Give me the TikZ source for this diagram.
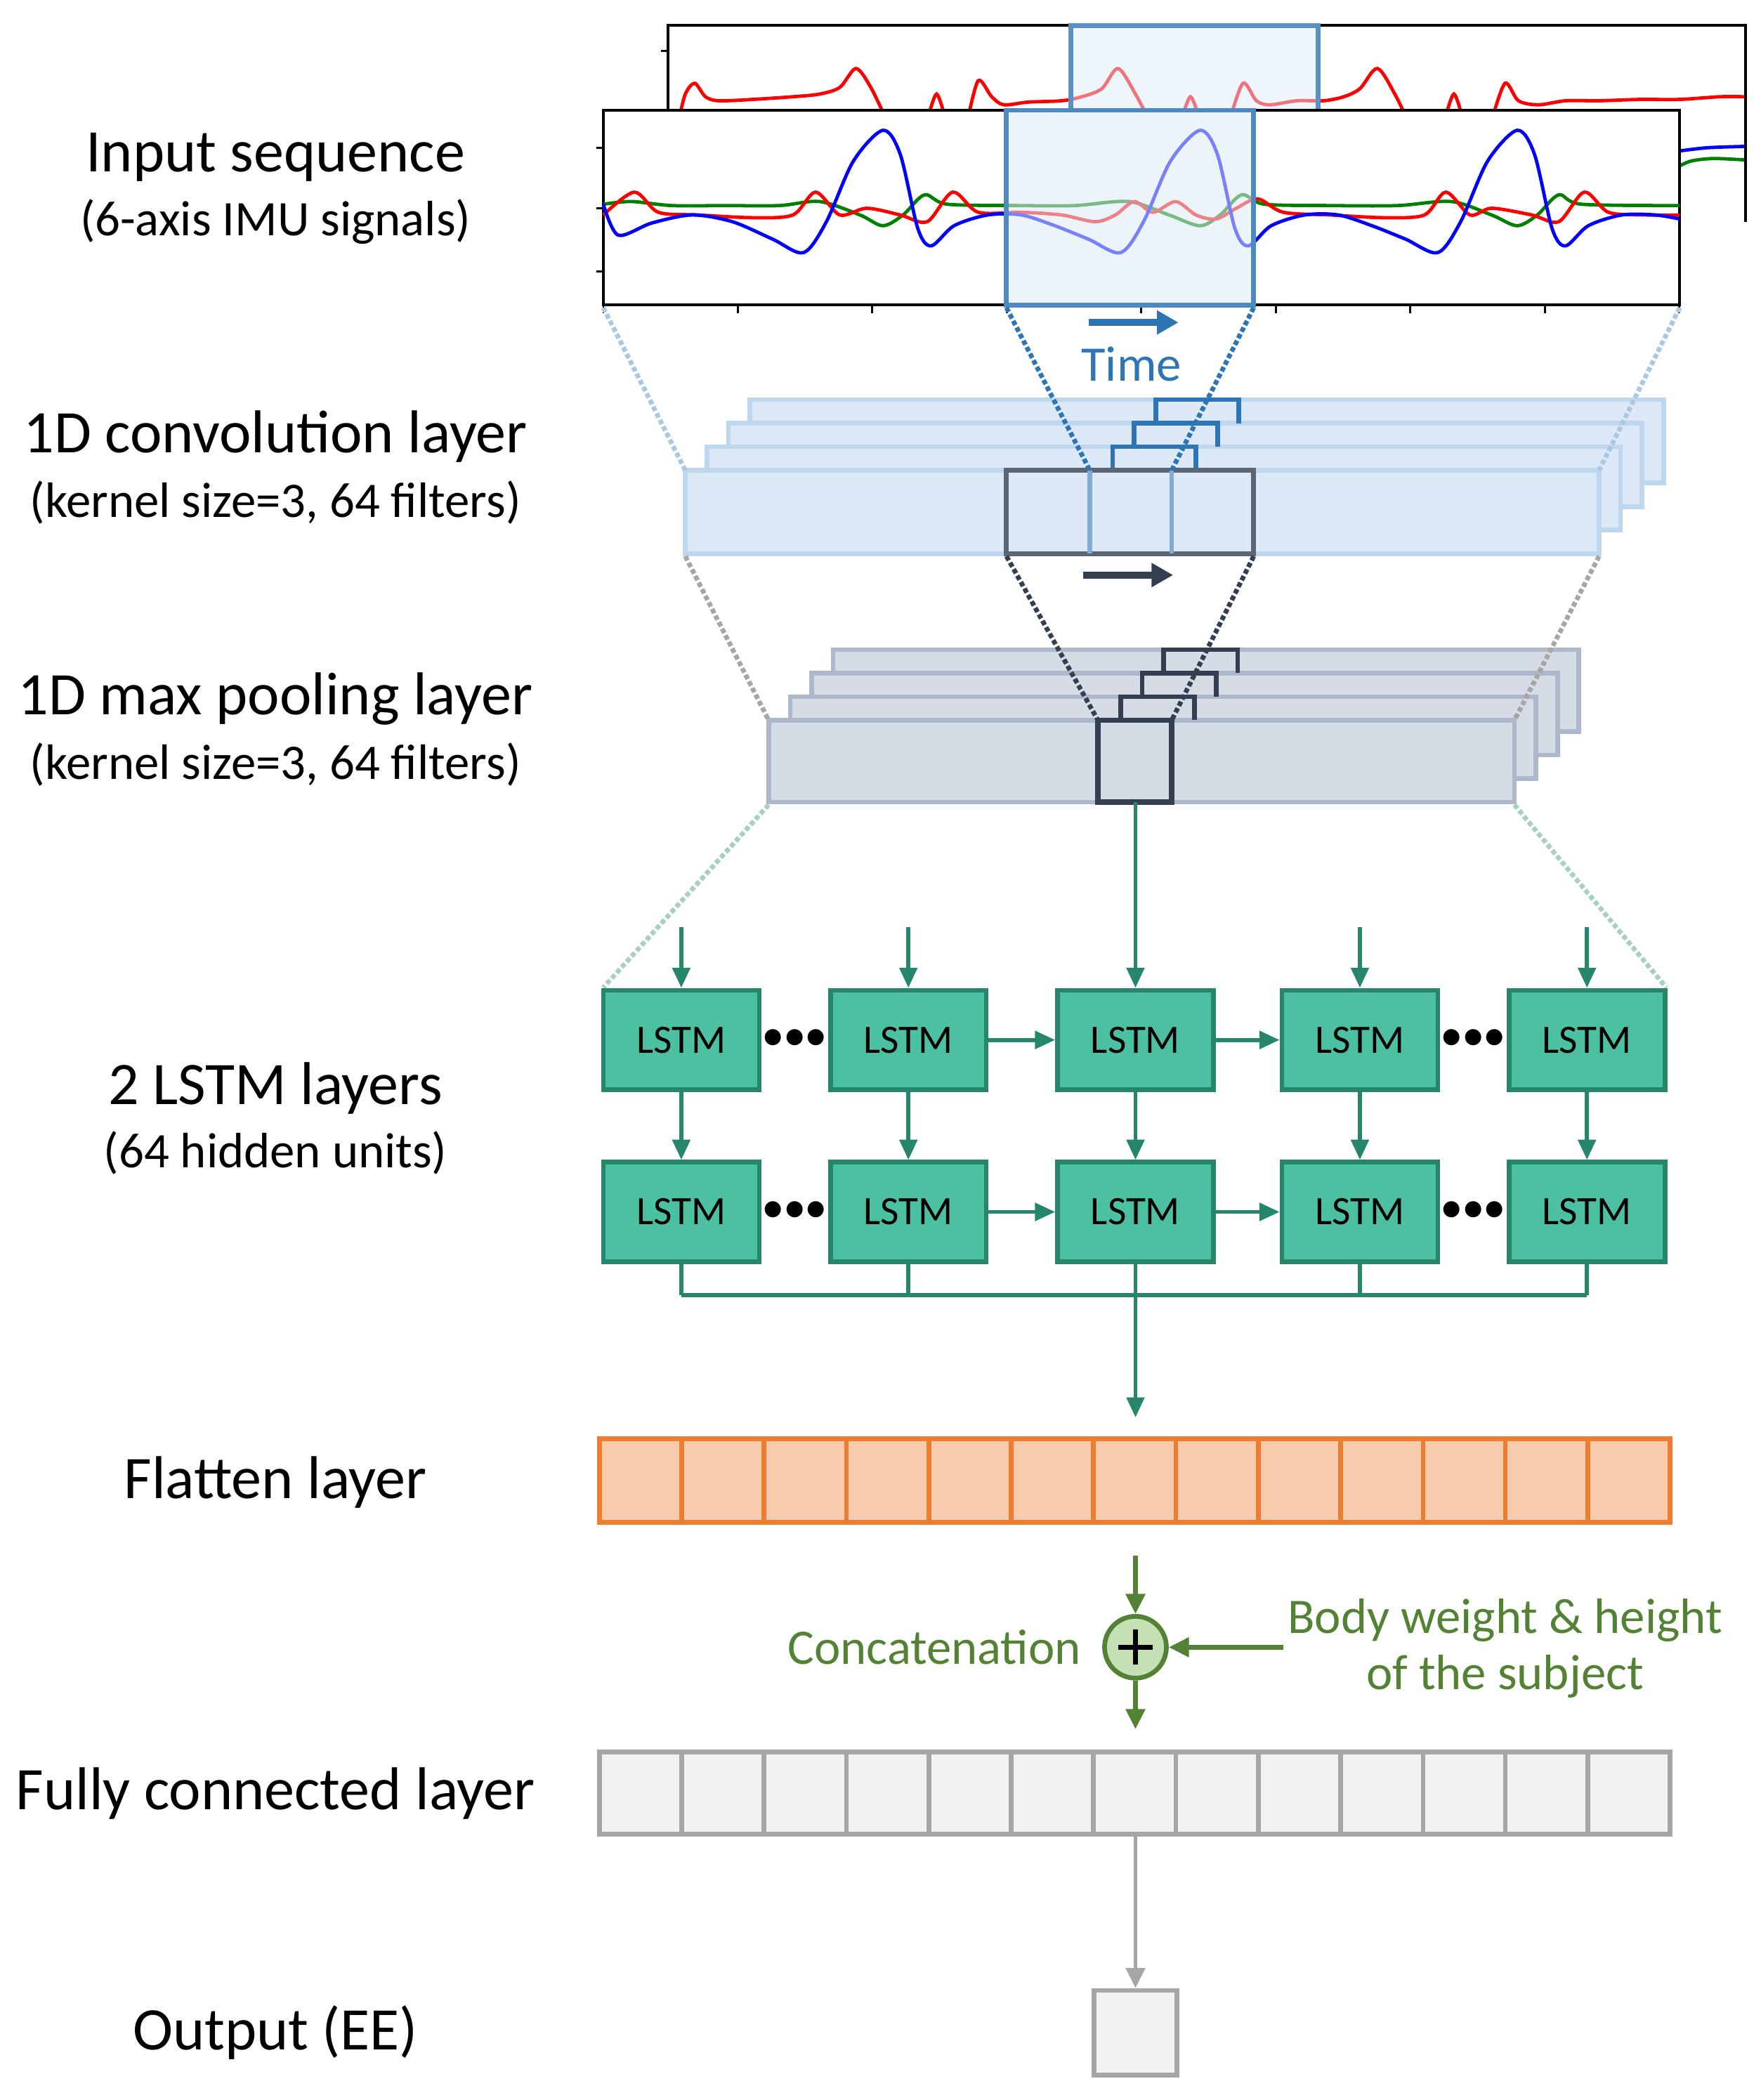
\documentclass[tikz,border=0pt]{standalone}
\usepackage{fontspec}
\setmainfont{Carlito}
\usetikzlibrary{arrows.meta,calc}
\definecolor{sigblue}{RGB}{46,117,182}
\definecolor{hlfill}{RGB}{222,235,247}
\definecolor{convfill}{RGB}{221,233,246}
\definecolor{convline}{RGB}{189,215,238}
\definecolor{poolfill}{RGB}{214,220,229}
\definecolor{poolline}{RGB}{173,185,202}
\definecolor{darkslate}{RGB}{51,63,80}
\definecolor{lstmfill}{RGB}{76,193,161}
\definecolor{lstmline}{RGB}{38,134,108}
\definecolor{flatfill}{RGB}{248,203,173}
\definecolor{flatline}{RGB}{237,125,49}
\definecolor{fcfill}{RGB}{242,242,242}
\definecolor{fcline}{RGB}{166,166,166}
\definecolor{catgreen}{RGB}{84,130,53}
\definecolor{catfill}{RGB}{197,224,180}

\tikzset{
  label/.style={font=\fontsize{45}{50}\selectfont, align=center},
  sublabel/.style={font=\fontsize{37}{42}\selectfont},
  lstm/.style={draw=lstmline, fill=lstmfill, line width=3.5pt, minimum width=116pt,
    minimum height=74pt, inner sep=0pt, font=\fontsize{30}{32}\selectfont},
  flow/.style={draw=lstmline, line width=3pt, -{Triangle[length=15pt,width=13pt]}},
  link/.style={draw=lstmline, line width=3pt},
  gap/.style={dotted, line width=3.5pt},
  sig/.style={line width=2.5pt},
}

\begin{document}
\begin{tikzpicture}[x=1pt, y=-1pt]
\useasboundingbox (0,0) rectangle (1310,1563);

% left labels
\node[label] at (205,117) {Input sequence};
\node[sublabel] at (205,165) {(6-axis IMU signals)};
\node[label] at (205,325) {1D convolution layer};
\node[sublabel] at (205,374) {(kernel size=3, 64 filters)};
\node[label] at (205,520) {1D max pooling layer};
\node[sublabel] at (205,569) {(kernel size=3, 64 filters)};
\node[label] at (205,810) {2 LSTM layers};
\node[sublabel] at (205,858) {(64 hidden units)};
\node[label] at (205,1103) {Flatten layer};
\node[label] at (205,1335) {Fully connected layer};
\node[label] at (205,1513) {Output (EE)};

% back signal plot
\draw[black, line width=2pt] (497,165) -- (497,19) -- (1299,19) -- (1299,165);
\draw[black, line width=1.5pt] (497,38) -- (492,38);
\draw[red, sig] plot[smooth] coordinates {(505,90)(510,70)(517,62)(525,72)(535,75)(560,74)(590,72)(610,70)(625,65)(637,51)(648,65)(660,90)};
\draw[red, sig] plot[smooth] coordinates {(690,90)(697,70)(704,90)};
\draw[red, sig] plot[smooth] coordinates {(720,90)(728,60)(738,72)(747,78)(765,76)(790,75)(805,72)(820,66)(832,51)(845,70)(858,95)};
\draw[red, sig] plot[smooth] coordinates {(879,90)(886,72)(893,90)};
\draw[red, sig] plot[smooth] coordinates {(915,90)(925,62)(935,75)(945,78)(965,75)(985,75)(1000,72)(1012,66)(1025,51)(1038,70)(1050,95)};
\draw[red, sig] plot[smooth] coordinates {(1075,90)(1082,70)(1089,90)};
\draw[red, sig] plot[smooth] coordinates {(1110,90)(1120,62)(1130,75)(1145,78)(1165,75)(1190,75)(1220,74)(1250,74)(1280,72)(1298,72)};
\draw[blue, sig] plot[smooth] coordinates {(1245,113)(1270,110)(1298,109)};
\draw[green!50!black, sig] plot[smooth] coordinates {(1245,126)(1258,120)(1275,118)(1298,119)};
\fill[hlfill, opacity=0.5] (797,19) rectangle (981,82);
\draw[sigblue!80, line width=3.5pt] (797,82) -- (797,19) -- (981,19) -- (981,82);

% front signal plot
\fill[white] (449,82) rectangle (1250,227);
\draw[black, line width=2pt] (449,82) rectangle (1250,227);
\foreach \ty in {110,155,202} \draw[black, line width=1.5pt] (449,\ty) -- (444,\ty);
\foreach \tx in {0,...,8} \draw[black, line width=1.5pt] (449+100.1*\tx,227) -- (449+100.1*\tx,233);
\draw[green!50!black, sig] plot[smooth] coordinates {(449,152)(470,150)(500,153)(540,153)(580,153)(610,150)(640,160)(657,168)(672,160)(688,145)(705,152)(760,153)(800,153)(840,150)(870,160)(893,168)(908,160)(924,145)(941,152)(990,153)(1040,153)(1080,150)(1110,160)(1129,168)(1144,160)(1160,145)(1177,152)(1250,153)};
\draw[red, sig] plot[smooth] coordinates {(449,160)(472,143)(490,158)(520,160)(560,162)(590,160)(607,143)(625,160)(645,155)(670,160)(690,165)(709,143)(728,158)(760,158)(790,160)(815,165)(830,160)(844,150)(858,158)(875,150)(890,160)(905,163)(920,155)(936,148)(955,158)(990,160)(1030,162)(1060,160)(1076,143)(1094,160)(1110,155)(1140,160)(1160,165)(1179,143)(1197,158)(1225,160)(1250,160)};
\draw[blue, sig] plot[smooth] coordinates {(449,152)(460,175)(485,166)(515,160)(545,165)(575,178)(598,188)(615,165)(635,120)(657,97)(670,115)(683,170)(693,183)(710,168)(735,160)(760,160)(785,168)(810,178)(834,188)(851,165)(871,120)(893,97)(906,115)(919,170)(929,183)(946,168)(971,160)(996,160)(1021,168)(1046,178)(1070,188)(1087,165)(1107,120)(1129,97)(1142,115)(1155,170)(1165,183)(1182,168)(1207,160)(1232,160)(1250,163)};
\fill[hlfill, opacity=0.55] (749,82) rectangle (933,227);
\draw[sigblue!85, line width=3.5pt] (749,82) rectangle (933,227);

% time arrow
\draw[sigblue, line width=5pt, -{Triangle[length=16pt,width=17pt]}] (810,240) -- (877,240);
\node[sublabel, text=sigblue] at (842,271) {Time};

% convolution layer
\foreach \k in {3,2,1,0}
  \draw[convline, fill=convfill, line width=3.5pt] (510+16*\k,350-17.5*\k) rectangle (1190+16*\k,412-17.5*\k);
\foreach \k in {1,2,3}
  \draw[sigblue, line width=3.5pt] (812+16*\k,350-17.5*\k+17.5) -- (812+16*\k,350-17.5*\k) -- (874+16*\k,350-17.5*\k) -- (874+16*\k,350-17.5*\k+17.5);
\draw[darkslate!80, line width=3.5pt] (749,350) rectangle (933,412);
\draw[sigblue!60, line width=3.5pt] (811,350) -- (811,412) (872,350) -- (872,412);
\draw[darkslate, line width=5pt, -{Triangle[length=16pt,width=17pt]}] (806,428) -- (873,428);

% projection lines from the input
\draw[gap, sigblue!40] (449,229) -- (510,350);
\draw[gap, sigblue!40] (1250,229) -- (1190,350);
\draw[gap, sigblue] (749,229) -- (811,350);
\draw[gap, sigblue] (933,229) -- (872,350);

% max pooling layer
\foreach \k in {3,2,1,0}
  \draw[poolline, fill=poolfill, line width=3.5pt] (572+16*\k,536-17.5*\k) rectangle (1127+16*\k,597-17.5*\k);
\foreach \k in {1,2,3}
  \draw[darkslate, line width=3.5pt] (818+16*\k,536-17.5*\k+17.5) -- (818+16*\k,536-17.5*\k) -- (873+16*\k,536-17.5*\k) -- (873+16*\k,536-17.5*\k+17.5);
\draw[darkslate, line width=4pt] (817,536) rectangle (872,597);
\coordinate (poolout) at (845,597);

% projection lines from the convolution
\draw[gap, black!35] (510,414) -- (572,536);
\draw[gap, black!35] (1190,414) -- (1127,536);
\draw[gap, darkslate] (749,414) -- (817,536);
\draw[gap, darkslate] (933,414) -- (872,536);

% projection lines to the LSTM
\draw[gap, lstmline!40] (572,599) -- (449,735);
\draw[gap, lstmline!40] (1127,599) -- (1240,735);

% LSTM layers
\foreach \i/\x in {1/507,2/676,3/845,4/1012,5/1181} {
  \node[lstm] (up\i) at (\x,774) {LSTM};
  \node[lstm] (lo\i) at (\x,902) {LSTM};
  \coordinate (in\i) at (\x,690);
  \draw[flow] (up\i) -- (lo\i);
  \draw[link] (lo\i.south) -- (\x,964);
}
\foreach \i in {1,2,4,5} \draw[flow] (in\i) -- (up\i);
\draw[flow] (poolout) -- (up3);
\foreach \r in {up,lo} {
  \draw[flow] (\r2) -- (\r3);
  \draw[flow] (\r3) -- (\r4);
  \node[font=\fontsize{34}{34}\selectfont] at ($(\r1)!0.5!(\r2)$) {\textbullet\kern-1pt\textbullet\kern-1pt\textbullet};
  \node[font=\fontsize{34}{34}\selectfont] at ($(\r4)!0.5!(\r5)$) {\textbullet\kern-1pt\textbullet\kern-1pt\textbullet};
}
\draw[link] (507,964) -- (1181,964);
\coordinate (flatin) at (845,1055);
\draw[flow] (lo3.south) -- (flatin);

% flatten layer
\foreach \c in {0,...,12}
  \draw[flatline, fill=flatfill, line width=3.5pt] (446+61.3*\c,1071) rectangle (446+61.3*\c+61.3,1133);

% concatenation
\node[circle, draw=catgreen, fill=catfill, line width=3.5pt, minimum size=46pt, inner sep=0pt] (cat) at (845,1226) {};
\draw[black, line width=4pt] (832,1226) -- (858,1226) (845,1213) -- (845,1239);
\coordinate (catin) at (845,1158);
\coordinate (catout) at (845,1287);
\coordinate (body) at (955,1226);
\tikzset{catflow/.style={draw=catgreen, line width=3.5pt, -{Triangle[length=15pt,width=14pt]}}}
\draw[catflow] (catin) -- (cat);
\draw[catflow] (cat) -- (catout);
\draw[catflow] (body) -- (cat);
\node[sublabel, text=catgreen, anchor=east] at (808,1226) {Concatenation};
\node[sublabel, text=catgreen, align=center] at (1120,1227) {Body weight \& height\\of the subject};

% fully connected layer
\foreach \c in {0,...,12}
  \draw[fcline, fill=fcfill, line width=3.5pt] (446+61.3*\c,1304) rectangle (446+61.3*\c+61.3,1365);

% output
\node[draw=fcline, fill=fcfill, line width=3.5pt, minimum width=62pt, minimum height=63pt, inner sep=0pt] (out) at (845,1513) {};
\coordinate (fcout) at (845,1365);
\draw[fcline, line width=3pt, -{Triangle[length=15pt,width=14pt]}] (fcout) -- (out);
\end{tikzpicture}
\end{document}
